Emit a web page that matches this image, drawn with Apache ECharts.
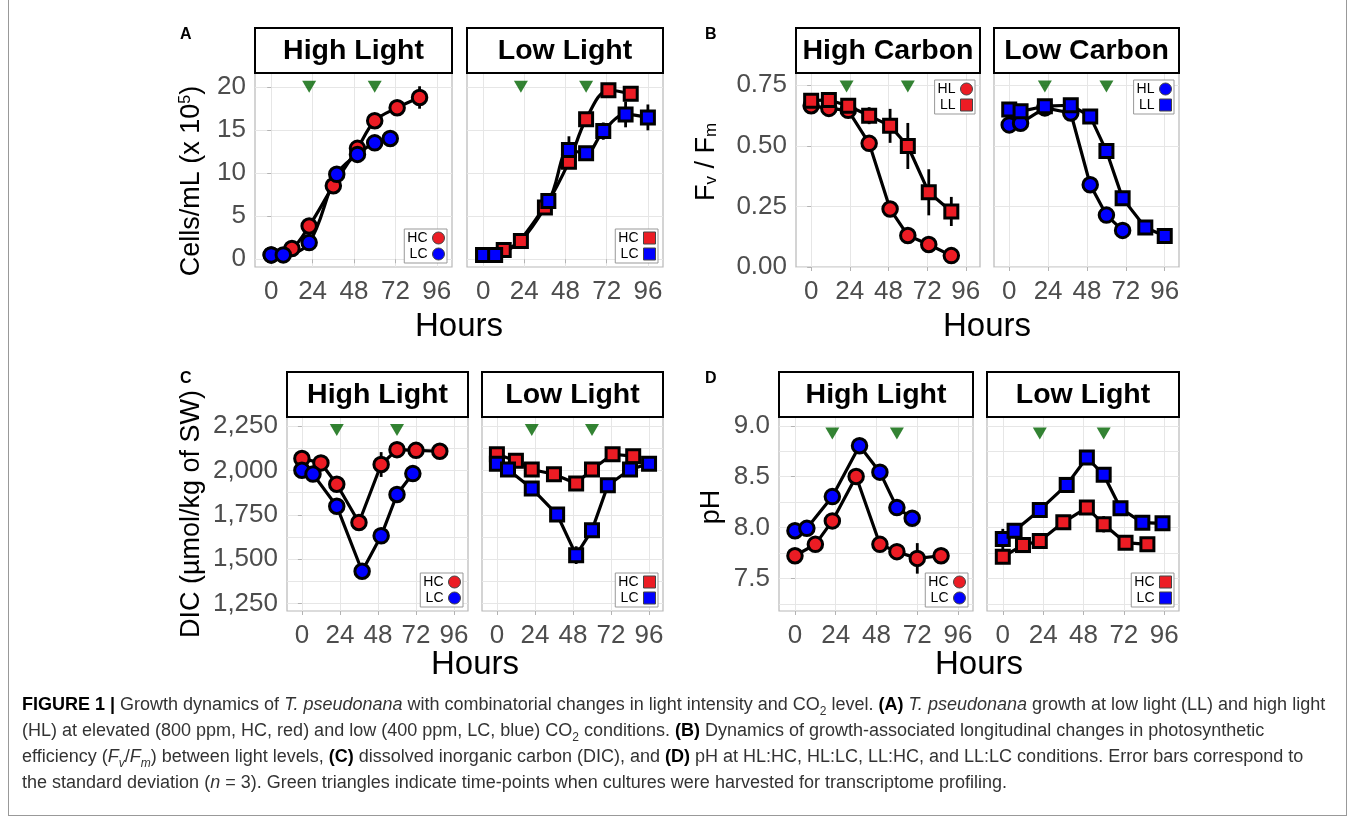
<!DOCTYPE html>
<html>
<head>
<meta charset="utf-8">
<title>Figure 1</title>
<script src="https://cdn.jsdelivr.net/npm/echarts@6/dist/echarts.min.js"></script>
<style>
  html, body { margin:0; padding:0; background:#fff; }
  #wrap { position:relative; width:1355px; height:825px; overflow:hidden; }
  #chart { position:absolute; left:0; top:0; width:1355px; height:825px; }
  #frame { position:absolute; left:8px; top:-2px; width:1337px; height:817px; border:1px solid #999; border-top:none; }
  #caption { position:absolute; left:22px; top:691px; font:18px/26px 'Liberation Sans', Arial, sans-serif; color:#333; white-space:nowrap; }
  #caption b { color:#000; }
  #caption sub { font-size:12px; line-height:0; }
</style>
</head>
<body>
<div id="wrap">
  <div id="chart"></div>
  <div id="frame"></div>
  <div id="caption"><b>FIGURE 1 |</b> Growth dynamics of <i>T. pseudonana</i> with combinatorial changes in light intensity and CO<sub>2</sub> level. <b>(A)</b> <i>T. pseudonana</i> growth at low light (LL) and high light<br>(HL) at elevated (800 ppm, HC, red) and low (400 ppm, LC, blue) CO<sub>2</sub> conditions. <b>(B)</b> Dynamics of growth-associated longitudinal changes in photosynthetic<br>efficiency (<i>F<sub>v</sub></i>/<i>F<sub>m</sub></i>) between light levels, <b>(C)</b> dissolved inorganic carbon (DIC), and <b>(D)</b> pH at HL:HC, HL:LC, LL:HC, and LL:LC conditions. Error bars correspond to<br>the standard deviation (<i>n</i> = 3). Green triangles indicate time-points when cultures were harvested for transcriptome profiling.</div>
</div>
<script>
// ---- data ----
// x axis, hours
const hourTicks = [0, 24, 48, 72, 96]
const harvestHours = [22, 60]

// A: cells/mL (x 10^5), [hour, mean]
const growthHighHC = [[0,0.5],[12,1.24],[22,3.86],[36,8.53],[50,12.86],[60,16.06],[73,17.57],[86,18.76]]
const growthHighLC = [[0,0.5],[7,0.5],[22,1.93],[38,9.85],[50,12.16],[60,13.5],[69,14.0]]
const growthLowHC = [[0,0.5],[12,1.08],[22,2.12],[36,6.0],[50,11.3],[60,16.25],[73,19.6],[86,19.2]]
const growthLowLC = [[0,0.5],[7,0.5],[38,6.76],[50,12.66],[60,12.28],[70,14.86],[83,16.8],[96,16.45]]
// error bars, [hour, mean, sd]
const growthHighErr = [[86,18.76,1.3],[69,14.0,0.9],[50,12.86,0.5]]
const growthLowErr = [[50,12.66,1.6],[70,14.86,1.0],[83,16.8,1.5],[96,16.45,1.5],[60,16.25,0.6],[38,6.76,0.3]]

// B: Fv/Fm
const fvfmHighHL = [[0,0.665],[11,0.654],[23,0.646],[36,0.51],[49,0.239],[60,0.13],[73,0.093],[87,0.047]]
const fvfmHighLL = [[0,0.686],[11,0.689],[23,0.665],[36,0.624],[49,0.582],[60,0.499],[73,0.308],[87,0.229]]
const fvfmLowHL = [[0,0.586],[7,0.593],[22,0.656],[38,0.635],[50,0.339],[60,0.214],[70,0.151]]
const fvfmLowLL = [[0,0.649],[7,0.642],[22,0.663],[38,0.667],[50,0.621],[60,0.478],[70,0.283],[84,0.163],[96,0.128]]
const fvfmHighErr = [[36,0.624,0.035],[49,0.582,0.07],[60,0.499,0.095],[73,0.308,0.095],[87,0.229,0.06],[36,0.51,0.03]]
const fvfmLowErr = [[60,0.478,0.03],[50,0.339,0.02]]

// C: DIC (umol/kg of SW)
const dicHighHC = [[0,2068],[12,2043],[22,1923],[36,1707],[50,2034],[60,2118],[72,2114],[87,2109]]
const dicHighLC = [[0,2002],[7,1980],[22,1799],[38,1432],[50,1632],[60,1865],[70,1983]]
const dicLowHC = [[0,2092],[12,2055],[22,2006],[36,1979],[50,1927],[60,2006],[73,2092],[86,2081]]
const dicLowLC = [[0,2039],[7,2006],[22,1899],[38,1752],[50,1523],[60,1664],[70,1917],[84,2006],[96,2039]]
const dicHighErr = [[50,2034,70]]
const dicLowErr = [[0,2039,40],[38,1752,40],[50,1523,50]]

// D: pH
const phHighHC = [[0,7.723],[12,7.835],[22,8.065],[36,8.501],[50,7.835],[60,7.763],[72,7.697],[86,7.723]]
const phHighLC = [[0,7.969],[7,7.992],[22,8.304],[38,8.803],[50,8.544],[60,8.196],[69,8.091]]
const phLowHC = [[0,7.713],[12,7.828],[22,7.867],[36,8.051],[50,8.196],[60,8.032],[73,7.851],[86,7.835]]
const phLowLC = [[0,7.887],[7,7.969],[22,8.173],[38,8.419],[50,8.688],[60,8.518],[70,8.189],[83,8.048],[95,8.041]]
const phHighErr = [[72,7.697,0.15]]
const phLowErr = [[0,7.887,0.1],[60,8.032,0.08],[38,8.419,0.05]]

// y ticks
const cellTicks = [0, 5, 10, 15, 20]
const fvfmTicks = [0, 0.25, 0.5, 0.75]
const dicTicks = [1250, 1500, 1750, 2000, 2250]
const dicMinor = [1375, 1625, 1875, 2125]
const phTicks = [7.5, 8.0, 8.5, 9.0]
const phMinor = [7.25, 7.75, 8.25, 8.75]

// ---- layout / style ----
const W = 1355
const FONT = "'Liberation Sans', Arial, sans-serif"
const RED = '#ec1c24', BLUE = '#0000ff', GREEN = '#006400'
const GRIDLINE = '#e6e6e6'

const fmtComma = v => v.toLocaleString('en-US')
const panels = [
  {letter:'A', strip:'High Light', box:[255,73,197,194], y:[-0.9,21.6], ticks:cellTicks, fmt:v=>v, triY:20, smooth:true,
   yName:'Cells/mL (x 10{sup|5})', nameGap:50, namePad:[0,22,0,0],
   sets:[{name:'HC', data:growthHighHC, color:RED, symbol:'circle'},{name:'LC', data:growthHighLC, color:BLUE, symbol:'circle'}], err:growthHighErr},
  {strip:'Low Light', box:[467,73,196,194], y:[-0.9,21.6], ticks:cellTicks, triY:20, smooth:true,
   sets:[{name:'HC', data:growthLowHC, color:RED, symbol:'rect'},{name:'LC', data:growthLowLC, color:BLUE, symbol:'rect'}], err:growthLowErr},
  {letter:'B', strip:'High Carbon', box:[796,73,184,194], y:[0,0.8], ticks:fvfmTicks, fmt:v=>v.toFixed(2), triY:0.744, legendTop:true,
   yName:'F{sub|v} / F{sub|m}', nameGap:76, namePad:[0,0,0,16],
   sets:[{name:'HL', data:fvfmHighHL, color:RED, symbol:'circle'},{name:'LL', data:fvfmHighLL, color:RED, symbol:'rect'}], err:fvfmHighErr},
  {strip:'Low Carbon', box:[994,73,185,194], y:[0,0.8], ticks:fvfmTicks, triY:0.744, legendTop:true,
   sets:[{name:'HL', data:fvfmLowHL, color:BLUE, symbol:'circle'},{name:'LL', data:fvfmLowLL, color:BLUE, symbol:'rect'}], err:fvfmLowErr},
  {letter:'C', strip:'High Light', box:[287,417,181,194], y:[1208,2302], ticks:dicTicks, minor:dicMinor, fmt:fmtComma, triY:2229,
   yName:'DIC (µmol/kg of SW)', nameGap:82, namePad:[0,0,0,0],
   sets:[{name:'HC', data:dicHighHC, color:RED, symbol:'circle'},{name:'LC', data:dicHighLC, color:BLUE, symbol:'circle'}], err:dicHighErr},
  {strip:'Low Light', box:[482,417,181,194], y:[1208,2302], ticks:dicTicks, minor:dicMinor, triY:2229,
   sets:[{name:'HC', data:dicLowHC, color:RED, symbol:'rect'},{name:'LC', data:dicLowLC, color:BLUE, symbol:'rect'}], err:dicLowErr},
  {letter:'D', strip:'High Light', box:[779,417,194,194], y:[7.18,9.086], ticks:phTicks, minor:phMinor, fmt:v=>v.toFixed(1), triY:8.923,
   yName:'pH', nameGap:54, namePad:[0,0,0,14],
   sets:[{name:'HC', data:phHighHC, color:RED, symbol:'circle'},{name:'LC', data:phHighLC, color:BLUE, symbol:'circle'}], err:phHighErr},
  {strip:'Low Light', box:[987,417,192,194], y:[7.18,9.086], ticks:phTicks, minor:phMinor, triY:8.923,
   sets:[{name:'HC', data:phLowHC, color:RED, symbol:'rect'},{name:'LC', data:phLowLC, color:BLUE, symbol:'rect'}], err:phLowErr}
]

// x titles span each pair of panels
const hoursTitles = [[459,327],[987,327],[475,665],[979,665]]

const grid = [], xAxis = [], yAxis = [], minorAxes = [], series = [], legend = [], graphic = []

panels.forEach((p, i) => {
  const [l, t, w, h] = p.box
  grid.push({left:l, top:t, width:w, height:h, show:true, borderColor:'#b8b8b8', borderWidth:1.2,
             backgroundColor:'#fff', outerBoundsMode:'none'})

  xAxis.push({
    gridIndex:i, type:'value', min:-9.4, max:104.8,
    axisLine:{show:false},
    axisTick:{show:true, length:4, customValues:hourTicks, lineStyle:{color:'#b3b3b3'}},
    axisLabel:{customValues:hourTicks, fontSize:26, color:'#4d4d4d', margin:12, fontFamily:FONT},
    splitLine:{show:true, lineStyle:{color:GRIDLINE, width:1}}
  })

  const y = {
    gridIndex:i, type:'value', min:p.y[0], max:p.y[1],
    axisLine:{show:false},
    axisTick:{show:!!p.yName, length:4, customValues:p.ticks, lineStyle:{color:'#b3b3b3'}},
    axisLabel:{show:!!p.yName, customValues:p.ticks, formatter:p.fmt, fontSize:26, color:'#4d4d4d', margin:9, fontFamily:FONT},
    splitLine:{show:true, lineStyle:{color:GRIDLINE, width:1}}
  }
  if (p.yName) {
    y.name = p.yName
    y.nameLocation = 'middle'
    y.nameGap = p.nameGap
    y.nameTextStyle = {fontSize:27, color:'#000', fontFamily:FONT, padding:p.namePad,
      rich:{sup:{fontSize:16, verticalAlign:'top', color:'#000', fontFamily:FONT},
            sub:{fontSize:17, verticalAlign:'bottom', color:'#000', fontFamily:FONT}}}
  }
  yAxis.push(y)
  if (p.minor) {
    // minor horizontal grid lines
    minorAxes.push({gridIndex:i, type:'value', min:p.y[0], max:p.y[1], position:'left',
      axisLine:{show:false}, axisTick:{show:false, customValues:p.minor}, axisLabel:{show:false},
      splitLine:{show:true, lineStyle:{color:GRIDLINE, width:1}}})
  }

  // connecting lines
  p.sets.forEach(s => {
    series.push({type:'line', xAxisIndex:i, yAxisIndex:i, data:s.data, showSymbol:false, silent:true,
      smooth:p.smooth ? 0.35 : false, lineStyle:{color:'#000', width:3.2}, z:2})
  })
  // error bars
  series.push({type:'custom', xAxisIndex:i, yAxisIndex:i, data:p.err, silent:true, z:3,
    encode:{x:0, y:1},
    renderItem:(params, api) => {
      const x = api.value(0), m = api.value(1), sd = api.value(2)
      const a = api.coord([x, m - sd]), b = api.coord([x, m + sd])
      return {type:'line', shape:{x1:a[0], y1:a[1], x2:b[0], y2:b[1]}, style:{stroke:'#000', lineWidth:2.8}}
    }})
  // points
  p.sets.forEach(s => {
    series.push({type:'scatter', name:s.name, xAxisIndex:i, yAxisIndex:i, data:s.data, silent:true,
      symbol:s.symbol, symbolSize:s.symbol === 'rect' ? 13 : 14.5,
      itemStyle:{color:s.color, borderColor:'#000', borderWidth:3, opacity:1}, z:4})
  })
  // harvest markers
  series.push({type:'scatter', xAxisIndex:i, yAxisIndex:i, silent:true, z:5,
    data:harvestHours.map(hr => [hr, p.triY]),
    symbol:'triangle', symbolRotate:180, symbolSize:[14, 12], itemStyle:{color:GREEN}})

  legend.push({
    orient:'vertical', align:'right', selectedMode:false,
    right:W - (l + w - 5),
    top:p.legendTop ? t + 7 : t + h - 3 - 35,
    itemWidth:12, itemHeight:12, itemGap:2, padding:[2,2,2,3],
    borderColor:'#999', borderWidth:1, backgroundColor:'#fff', borderRadius:0,
    textStyle:{fontSize:14, color:'#000', fontFamily:FONT},
    data:p.sets.map(s => ({name:s.name, icon:s.symbol === 'rect' ? 'rect' : 'circle',
      itemStyle:{color:s.color, borderColor:'#444', borderWidth:1}}))
  })

  // facet strip
  graphic.push({type:'rect', shape:{x:l, y:t - 45, width:w, height:45}, z:10,
    style:{fill:'#fff', stroke:'#000', lineWidth:2}})
  graphic.push({type:'text', x:l + w / 2, y:t - 22, z:11,
    style:{text:p.strip, fontSize:28.5, fontWeight:'bold', fontFamily:FONT, fill:'#000', align:'center', verticalAlign:'middle'}})

  if (p.letter) {
    graphic.push({type:'text', x:l < 500 ? 180 : 705, y:t - 38, z:11,
      style:{text:p.letter, fontSize:16, fontWeight:'bold', fontFamily:FONT, fill:'#000', align:'left', verticalAlign:'middle'}})
  }
})

hoursTitles.forEach(([x, yy]) => {
  graphic.push({type:'text', x:x, y:yy, z:11,
    style:{text:'Hours', fontSize:33, fontFamily:FONT, fill:'#000', align:'center', verticalAlign:'middle'}})
})

const chart = echarts.init(document.getElementById('chart'), null, {renderer:'canvas'})
chart.setOption({
  animation:false,
  backgroundColor:'#fff',
  textStyle:{fontFamily:FONT},
  grid:grid,
  xAxis:xAxis,
  yAxis:yAxis.concat(minorAxes),
  legend:legend,
  series:series,
  graphic:graphic
})
</script>
</body>
</html>
